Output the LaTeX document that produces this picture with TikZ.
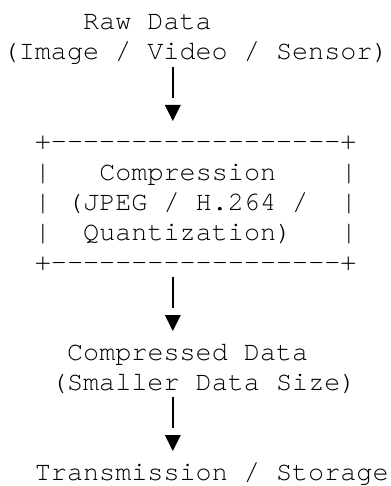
\documentclass[tikz,border=0pt]{standalone}
\usepackage{fontspec}
\setmonofont{texgyrecursor}[Extension=.otf, UprightFont=*-regular]
\usetikzlibrary{arrows.meta}

\tikzset{
    txt/.style={anchor=base west, inner sep=0pt,
        font=\ttfamily\fontsize{26.8pt}{30pt}\selectfont},
    % stem first, then the tip on its own, a small gap between them
    flow/.style={line width=2.4pt, shorten <=7pt, shorten >=52pt,
        postaction={draw, shorten <=45pt, shorten >=29pt,
            -{Triangle[width=16pt, length=16pt, line width=0pt]}}},
}

\begin{document}
\begin{tikzpicture}[x=16.1pt, y=-30pt]
    \useasboundingbox[fill=white] (-2.5pt,0pt) rectangle ++(390pt,-486pt);

    \node[txt] (raw) at (5,1) {Raw Data};
    \node[txt] (src) at (0,2) {(Image / Video / Sensor)};

    % the box, written out in characters
    \node[txt] (boxtop) at (2,5) {+------------------+};
    \foreach \r in {6,7,8} {
        \node[txt] (lside\r) at (2,\r) {|};
        \node[txt] (rside\r) at (21,\r) {|};
    }
    \node[txt] (comp) at (6,6) {Compression};
    \node[txt] (codecs) at (4,7) {(JPEG / H.264 /};
    \node[txt] (quant) at (5,8) {Quantization)};
    \node[txt] (boxbot) at (2,9) {+------------------+};

    \node[txt] (cdata) at (4,12) {Compressed Data};
    \node[txt] (csize) at (3,13) {(Smaller Data Size)};
    \node[txt] (out) at (2,16) {Transmission / Storage};

    % down arrows, all on one vertical
    \coordinate (axis) at (10.58,0);
    \draw[flow] (src.base -| axis) -- (boxtop.base -| axis);
    \draw[flow] (boxbot.base -| axis) -- (cdata.base -| axis);
    \draw[flow] (csize.base -| axis) -- (out.base -| axis);

\end{tikzpicture}
\end{document}
